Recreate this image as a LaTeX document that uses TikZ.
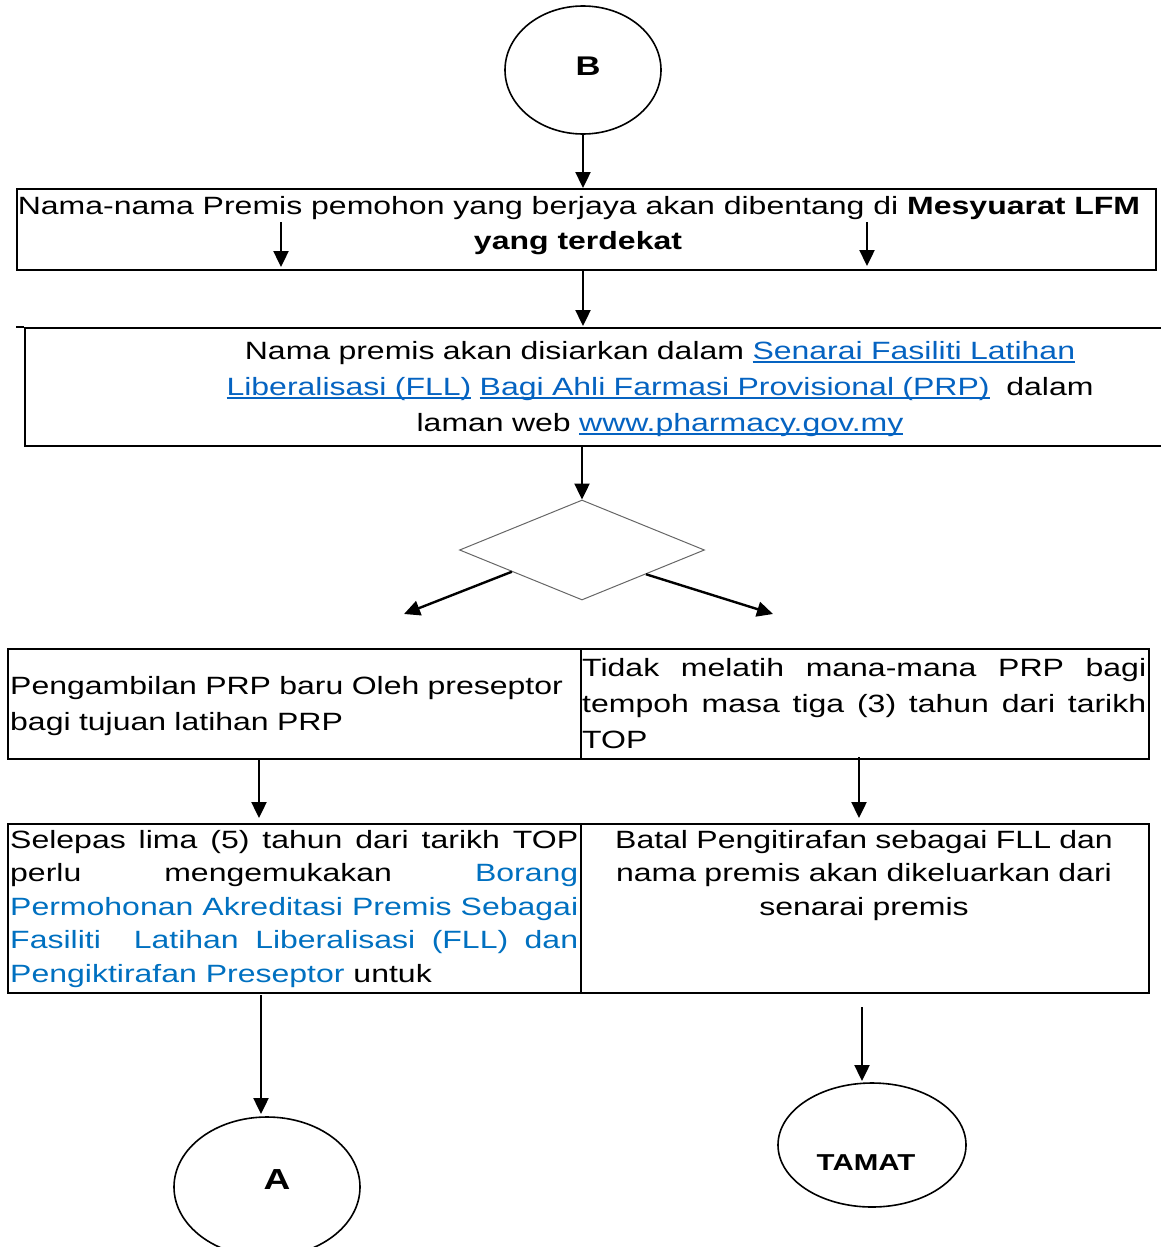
\documentclass[tikz,border=0pt]{standalone}
\usepackage{fontspec}
\setmainfont{Liberation Sans}[FakeStretch=1.28]
\usetikzlibrary{arrows.meta,shapes.geometric,calc}
\definecolor{linkc}{HTML}{0563C1}
\definecolor{bluetx}{HTML}{0070C0}
\newcommand{\lnk}[1]{\leavevmode{\color{linkc}\setbox0\hbox{#1}\rlap{\rule[-3.5pt]{\wd0}{1.6pt}}\box0}}
\begin{document}
\begin{tikzpicture}[x=1pt,y=-1pt,
  arr/.style={line width=2.4pt, -{Triangle[length=16pt,width=15pt]}},
  tbl/.style={draw, line width=2.2pt, inner sep=0pt, anchor=north west},
  bx/.style={draw, line width=1.5pt, inner sep=0pt, anchor=north west},
  ell/.style={ellipse, draw, line width=1.6pt, inner sep=0pt},
  txt/.style={font=\fontsize{25}{36}\selectfont, inner sep=0pt},
]
\useasboundingbox (0,0) rectangle (1161,1247);
% start ellipse
\node[ell, minimum width=156pt, minimum height=128pt,
  label={[font=\fontsize{27}{27}\selectfont\bfseries, xshift=5pt, yshift=4pt]center:B}] (B) at (583,70) {};
% box 1
\node[bx, minimum width=1139pt, minimum height=81pt] (b1) at (16,188) {};
\node[txt, anchor=base] (t1a) at (579,214) {Nama-nama Premis pemohon yang berjaya akan dibentang di \textbf{Mesyuarat LFM}};
\node[txt, anchor=base] (t1b) at (578,249) {\textbf{yang terdekat}};
\coordinate (i1) at (281,222); \coordinate (i1e) at (281,267);
\coordinate (i2) at (867,222); \coordinate (i2e) at (867,266);
\draw[arr] (i1) -- (i1e);
\draw[arr] (i2) -- (i2e);
\draw[arr] (B.south) -- (B.south |- b1.north);
% box 2
\node[bx, minimum width=1150pt, minimum height=118pt] (b2) at (24,327) {};
\coordinate (b2x) at (16,327);
\draw[line width=1.5pt] (b2x) -- (b2.north west);
\draw[arr] (583,270) -- (583,326);
\node[txt, align=center, text width=1000pt, anchor=base] (t2) at (660,359)
  {Nama premis akan disiarkan dalam \lnk{Senarai Fasiliti Latihan}\\
   \lnk{Liberalisasi (FLL)} \lnk{Bagi Ahli Farmasi Provisional (PRP)}\ \ dalam\\
   laman web \lnk{www.pharmacy.gov.my}};
% diamond
\node[diamond, draw=black!60, line width=1pt, minimum width=245pt, minimum height=100pt, inner sep=0pt] (D) at (582,550) {};
\draw[arr] (D.north |- b2.south) -- (D.north);
\coordinate (dl) at ($(D.west)!0.43!(D.south)$);
\coordinate (dr) at ($(D.east)!0.48!(D.south)$);
\coordinate (dle) at (404,614);
\coordinate (dre) at (773,614);
\draw[arr] (dl) -- (dle);
\draw[arr] (dr) -- (dre);
% table row 1
\node[tbl, minimum width=573pt, minimum height=110pt] (c11) at (7,648) {};
\node[tbl, minimum width=568pt, minimum height=110pt] (c12) at (580,648) {};
\node[txt, align=left, text width=565pt, anchor=base west] (t11) at (10,694)
  {Pengambilan PRP baru Oleh preseptor\\bagi tujuan latihan PRP};
\node[txt, align=justify, text width=564pt, anchor=base west] (t12) at (582,676)
  {Tidak melatih mana-mana PRP bagi\linebreak tempoh masa tiga (3) tahun dari tarikh\linebreak TOP};
% table row 2
\node[tbl, minimum width=573pt, minimum height=169pt] (c21) at (7,823) {};
\node[tbl, minimum width=568pt, minimum height=169pt] (c22) at (580,823) {};
\node[txt, font=\fontsize{25}{33.5}\selectfont, align=justify, text width=568pt, anchor=base west] (t21) at (10,848)
  {Selepas lima (5) tahun dari tarikh TOP\linebreak perlu mengemukakan {\color{bluetx}Borang}\linebreak
   {\color{bluetx}Permohonan Akreditasi Premis Sebagai}\linebreak
   {\color{bluetx}Fasiliti\ \ Latihan Liberalisasi (FLL) dan}\linebreak
   {\color{bluetx}Pengiktirafan Preseptor} untuk};
\node[txt, font=\fontsize{25}{33.5}\selectfont, align=center, text width=560pt, anchor=base] (t22) at (864,848)
  {Batal Pengitirafan sebagai FLL dan\\nama premis akan dikeluarkan dari\\senarai premis};
\coordinate (r1) at (259,759); \coordinate (r1e) at (259,818);
\coordinate (r2) at (859,757); \coordinate (r2e) at (859,818);
\draw[arr] (r1) -- (r1e);
\draw[arr] (r2) -- (r2e);
% end nodes
\node[ell, minimum width=186pt, minimum height=140pt,
  label={[font=\fontsize{29}{29}\selectfont\bfseries, xshift=10pt, yshift=7pt]center:A}] (A) at (267,1187) {};
\node[ell, minimum width=188pt, minimum height=124pt,
  label={[font=\fontsize{23}{23}\selectfont\bfseries, xshift=-6pt, yshift=-18pt]center:TAMAT}] (T) at (872,1145) {};
\coordinate (a0) at (261,995); \coordinate (a1) at (261,1114);
\draw[arr] (a0) -- (a1);
\coordinate (m0) at (862,1007); \coordinate (m1) at (862,1081);
\draw[arr] (m0) -- (m1);
\end{tikzpicture}
\end{document}
